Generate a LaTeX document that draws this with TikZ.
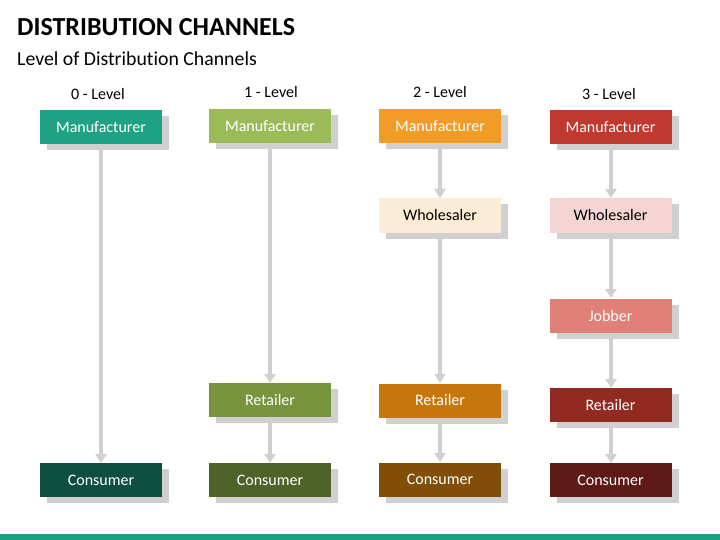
\documentclass[tikz,border=0pt]{standalone}
\usepackage{fontspec}
\setmainfont[Ligatures=NoCommon]{Carlito}
\usetikzlibrary{shadows,arrows.meta}
\definecolor{shade}{HTML}{D0D0D0}
\definecolor{teal0}{HTML}{1FA283}
\definecolor{teal1}{HTML}{0E4F42}
\definecolor{gA}{HTML}{9BBB59}
\definecolor{gB}{HTML}{77933C}
\definecolor{gC}{HTML}{4F6228}
\definecolor{oA}{HTML}{F29B26}
\definecolor{oB}{HTML}{FCEBD5}
\definecolor{oC}{HTML}{C5770D}
\definecolor{oD}{HTML}{814E07}
\definecolor{rA}{HTML}{C0392F}
\definecolor{rB}{HTML}{F5D5D3}
\definecolor{rC}{HTML}{E08078}
\definecolor{rD}{HTML}{922A22}
\definecolor{rE}{HTML}{5E1A16}
\definecolor{bar}{HTML}{1E9E82}
\tikzset{
  box/.style={rectangle, minimum width=122pt, minimum height=34pt, inner sep=0pt,
    text=white, font=\fontsize{16}{18}\selectfont,
    general shadow={fill=shade, shadow xshift=7pt, shadow yshift=-6pt}},
  lvl/.style={font=\fontsize{16}{18}\selectfont, anchor=base},
  flow/.style={draw=shade, line width=3.5pt, -{Triangle[width=11pt,length=9pt]}}
}
\begin{document}
\begin{tikzpicture}[x=1pt,y=-1pt]
\useasboundingbox (0,0) rectangle (720,540);
\fill[bar] (0,534) rectangle (720,540);
\node[anchor=base west, inner sep=0pt, font=\fontsize{26}{30}\selectfont\bfseries] (title) at (17,36) {DISTRIBUTION CHANNELS};
\node[anchor=base west, inner sep=0pt, font=\fontsize{19.8}{24}\selectfont] (sub) at (17,66) {Level of Distribution Channels};
\node[lvl] (l0) at (98,100) {0 - Level};
\node[lvl] (l1) at (271,98) {1 - Level};
\node[lvl] (l2) at (440,98) {2 - Level};
\node[lvl] (l3) at (609,100) {3 - Level};
% arrows first (behind boxes)
\coordinate (a0s) at (101,144); \coordinate (a0e) at (101,463);
\coordinate (a1s) at (270,143); \coordinate (a1e) at (270,383);
\coordinate (a1t) at (270,417); \coordinate (a1u) at (270,463);
\draw[flow] (a0s) -- (a0e);
\draw[flow] (a1s) -- (a1e);
\draw[flow] (a1t) -- (a1u);
\coordinate (a2a) at (440,144); \coordinate (a2b) at (440,198);
\coordinate (a2c) at (440,233); \coordinate (a2d) at (440,383);
\coordinate (a2e) at (440,418); \coordinate (a2f) at (440,462);
\draw[flow] (a2a) -- (a2b);
\draw[flow] (a2c) -- (a2d);
\draw[flow] (a2e) -- (a2f);
\coordinate (a3a) at (611,144); \coordinate (a3b) at (611,198);
\coordinate (a3c) at (611,233); \coordinate (a3d) at (611,298);
\coordinate (a3e) at (611,333); \coordinate (a3f) at (611,388);
\coordinate (a3g) at (611,422); \coordinate (a3h) at (611,463);
\draw[flow] (a3a) -- (a3b);
\draw[flow] (a3c) -- (a3d);
\draw[flow] (a3e) -- (a3f);
\draw[flow] (a3g) -- (a3h);
% column 0
\node[box, fill=teal0] (m0) at (101,127) {Manufacturer};
\node[box, fill=teal1] (c0) at (101,480) {Consumer};
% column 1
\node[box, fill=gA] (m1) at (270,126) {Manufacturer};
\node[box, fill=gB] (r1) at (270,400) {Retailer};
\node[box, fill=gC] (c1) at (270,480) {Consumer};
% column 2
\node[box, fill=oA] (m2) at (440,126.5) {Manufacturer};
\node[box, fill=oB, text=black] (w2) at (440,215.5) {Wholesaler};
\node[box, fill=oC] (r2) at (440,400.5) {Retailer};
\node[box, fill=oD] (c2) at (440,479.5) {Consumer};
% column 3
\node[box, fill=rA] (m3) at (610.5,127) {Manufacturer};
\node[box, fill=rB, text=black] (w3) at (610.5,215.5) {Wholesaler};
\node[box, fill=rC] (j3) at (610.5,315.5) {Jobber};
\node[box, fill=rD] (r3) at (610.5,405) {Retailer};
\node[box, fill=rE] (c3) at (610.5,480) {Consumer};
\end{tikzpicture}
\end{document}
